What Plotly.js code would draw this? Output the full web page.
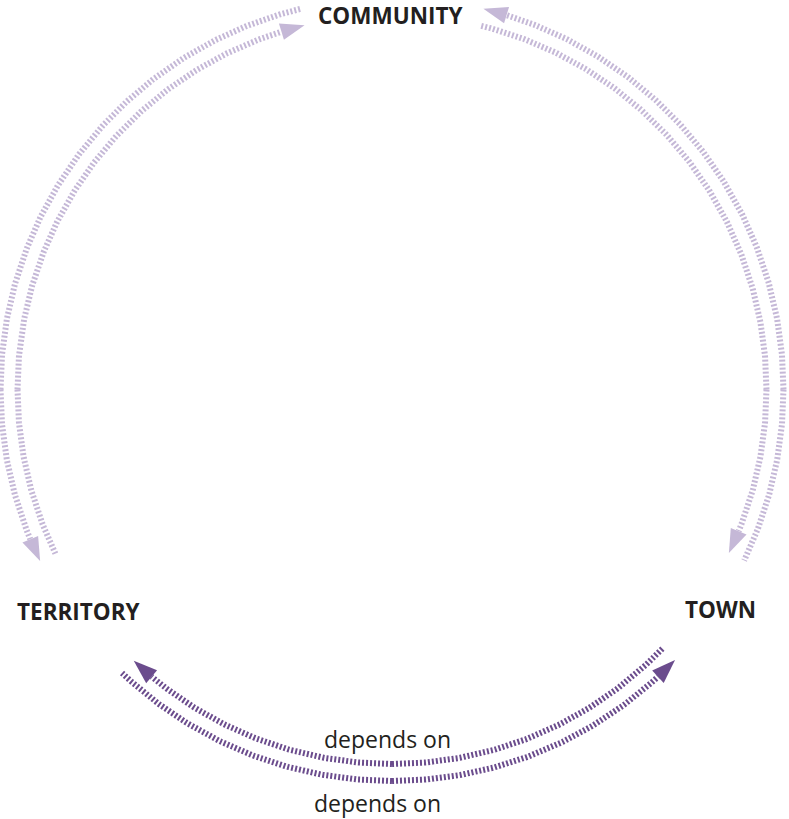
<!DOCTYPE html>
<html><head><meta charset="utf-8">
<script src="https://cdn.plot.ly/plotly-3.0.1.min.js"></script>
<style>html,body{margin:0;padding:0;background:#fff}</style>
</head><body><div id="chart" style="width:789px;height:819px"></div>
<script>
// ---- data ----
const nodes = ['COMMUNITY', 'TERRITORY', 'TOWN'];
const linkSource = ['COMMUNITY', 'TERRITORY', 'COMMUNITY', 'TOWN', 'TOWN', 'TERRITORY'];
const linkTarget = ['TERRITORY', 'COMMUNITY', 'TOWN', 'COMMUNITY', 'TERRITORY', 'TOWN'];
const linkLabel = ['', '', '', '', 'depends on', 'depends on'];
const linkStrength = ['weak', 'weak', 'weak', 'weak', 'strong', 'strong'];

// ---- layout / style ----
const nodeAngle = {COMMUNITY: 90, TERRITORY: 216.2, TOWN: 325.2};
const nodeGap = {COMMUNITY: 13.5, TERRITORY: 10.2, TOWN: 8.9};
const ringOf = ['outer', 'inner', 'inner', 'outer', 'inner', 'outer'];
const ringR = {inner: 374.5, outer: 391.5};
const colorOf = {weak: '#c5b8d7', strong: '#6b4c8d'};
const arrowLen = 24, arrowHalf = 8.5;
const nodeLabelPos = {COMMUNITY: [-2, 374], TERRITORY: [-313, -222], TOWN: [328, -220]};
const edgeLabelPos = [null, null, null, null, [-5, -349], [-15, -413]];

function pt(r, a) { const t = a * Math.PI / 180; return [r * Math.cos(t), r * Math.sin(t)]; }
function arc(r, a0, a1) {
  const n = Math.max(2, Math.ceil(Math.abs(a1 - a0) * 4));
  const xs = [], ys = [];
  for (let i = 0; i <= n; i++) { const p = pt(r, a0 + (a1 - a0) * i / n); xs.push(p[0]); ys.push(p[1]); }
  return {xs, ys};
}

const traces = [];
const annotations = [];
for (let i = 0; i < linkSource.length; i++) {
  const s = linkSource[i], t = linkTarget[i];
  let d = nodeAngle[t] - nodeAngle[s];
  while (d > 180) d -= 360; while (d < -180) d += 360;
  const dir = Math.sign(d);
  const a0 = nodeAngle[s] + dir * nodeGap[s];
  const aTip = nodeAngle[s] + d - dir * nodeGap[t];
  const r = ringR[ringOf[i]];
  const aBase = aTip - dir * (arrowLen / r) * 180 / Math.PI;
  const col = colorOf[linkStrength[i]];
  const lo = Math.min(a0, aBase), hi = Math.max(a0, aBase);
  const splits = [];
  for (let m = Math.ceil(lo / 90) * 90; m < hi; m += 90) if (m > lo) splits.push(m);
  const pieces = splits.length ? [[splits[0], a0], [splits[0], aBase]] : [[a0, aBase]];
  pieces.forEach(pc => {
    const p = arc(r, pc[0], pc[1]);
    traces.push({x: p.xs, y: p.ys, mode: 'lines', hoverinfo: 'skip', showlegend: false,
      line: {color: col, width: 6, dash: '2px,2px'}});
  });
  const tip = pt(r, aTip), b1 = pt(r - arrowHalf, aBase), b2 = pt(r + arrowHalf, aBase);
  traces.push({x: [tip[0], b1[0], b2[0], tip[0]], y: [tip[1], b1[1], b2[1], tip[1]],
    mode: 'lines', fill: 'toself', fillcolor: col, line: {width: 0, color: col},
    hoverinfo: 'skip', showlegend: false});
  if (linkLabel[i]) {
    annotations.push({x: edgeLabelPos[i][0], y: edgeLabelPos[i][1], text: linkLabel[i],
      showarrow: false, xanchor: 'center', yanchor: 'middle',
      font: {family: 'Open Sans', size: 23, color: '#231f20'}});
  }
}
nodes.forEach(n => {
  annotations.push({x: nodeLabelPos[n][0], y: nodeLabelPos[n][1], text: '<b>' + n + '</b>',
    showarrow: false, xanchor: 'center', yanchor: 'middle',
    font: {family: 'Open Sans', size: 22.5, color: '#231f20'}});
});

const layout = {
  width: 789, height: 819, margin: {l: 0, r: 0, t: 0, b: 0},
  paper_bgcolor: '#fff', plot_bgcolor: '#fff', showlegend: false,
  xaxis: {range: [-392, 397], visible: false, fixedrange: true},
  yaxis: {range: [-429.5, 389.5], visible: false, fixedrange: true},
  annotations: annotations
};
Plotly.newPlot('chart', traces, layout, {displayModeBar: false, staticPlot: true});
</script></body></html>
